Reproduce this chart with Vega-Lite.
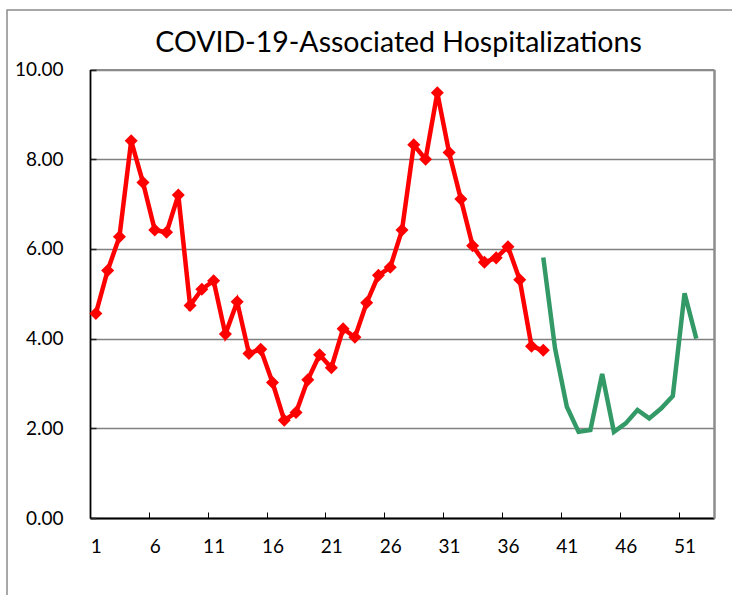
{
  "$schema": "https://vega.github.io/schema/vega-lite/v6.json",
  "autosize": {"type": "none"},
  "width": 745,
  "height": 605,
  "padding": {"left": 7, "top": 10, "right": -20, "bottom": -20},
  "background": "white",
  "config": {
    "view": {"stroke": "#8c8c8c", "strokeWidth": 1.5},
    "font": "Lato"
  },
  "title": {
    "text": "COVID-19-Associated Hospitalizations",
    "anchor": "middle",
    "frame": "group",
    "orient": "top",
    "offset": 0,
    "baseline": "alphabetic",
    "dy": 70,
    "dx": 19,
    "font": "Lato",
    "fontSize": 28.5,
    "fontWeight": "normal",
    "color": "#000000"
  },
  "data": {
    "values": [
      {"week": 1, "value": 4.56, "series": "prior"},
      {"week": 2, "value": 5.52, "series": "prior"},
      {"week": 3, "value": 6.27, "series": "prior"},
      {"week": 4, "value": 8.41, "series": "prior"},
      {"week": 5, "value": 7.48, "series": "prior"},
      {"week": 6, "value": 6.42, "series": "prior"},
      {"week": 7, "value": 6.37, "series": "prior"},
      {"week": 8, "value": 7.2, "series": "prior"},
      {"week": 9, "value": 4.74, "series": "prior"},
      {"week": 10, "value": 5.1, "series": "prior"},
      {"week": 11, "value": 5.29, "series": "prior"},
      {"week": 12, "value": 4.1, "series": "prior"},
      {"week": 13, "value": 4.82, "series": "prior"},
      {"week": 14, "value": 3.67, "series": "prior"},
      {"week": 15, "value": 3.76, "series": "prior"},
      {"week": 16, "value": 3.02, "series": "prior"},
      {"week": 17, "value": 2.18, "series": "prior"},
      {"week": 18, "value": 2.35, "series": "prior"},
      {"week": 19, "value": 3.08, "series": "prior"},
      {"week": 20, "value": 3.64, "series": "prior"},
      {"week": 21, "value": 3.35, "series": "prior"},
      {"week": 22, "value": 4.22, "series": "prior"},
      {"week": 23, "value": 4.03, "series": "prior"},
      {"week": 24, "value": 4.8, "series": "prior"},
      {"week": 25, "value": 5.41, "series": "prior"},
      {"week": 26, "value": 5.59, "series": "prior"},
      {"week": 27, "value": 6.42, "series": "prior"},
      {"week": 28, "value": 8.32, "series": "prior"},
      {"week": 29, "value": 8.0, "series": "prior"},
      {"week": 30, "value": 9.48, "series": "prior"},
      {"week": 31, "value": 8.15, "series": "prior"},
      {"week": 32, "value": 7.11, "series": "prior"},
      {"week": 33, "value": 6.07, "series": "prior"},
      {"week": 34, "value": 5.7, "series": "prior"},
      {"week": 35, "value": 5.8, "series": "prior"},
      {"week": 36, "value": 6.05, "series": "prior"},
      {"week": 37, "value": 5.31, "series": "prior"},
      {"week": 38, "value": 3.83, "series": "prior"},
      {"week": 39, "value": 3.74, "series": "prior"},
      {"week": 39, "value": 5.81, "series": "current"},
      {"week": 40, "value": 3.78, "series": "current"},
      {"week": 41, "value": 2.48, "series": "current"},
      {"week": 42, "value": 1.92, "series": "current"},
      {"week": 43, "value": 1.96, "series": "current"},
      {"week": 44, "value": 3.21, "series": "current"},
      {"week": 45, "value": 1.92, "series": "current"},
      {"week": 46, "value": 2.11, "series": "current"},
      {"week": 47, "value": 2.41, "series": "current"},
      {"week": 48, "value": 2.22, "series": "current"},
      {"week": 49, "value": 2.44, "series": "current"},
      {"week": 50, "value": 2.72, "series": "current"},
      {"week": 51, "value": 5.01, "series": "current"},
      {"week": 52, "value": 4.0, "series": "current"}
    ]
  },
  "layer": [
    {
      "transform": [{"filter": "datum.series === 'prior'"}],
      "mark": {
        "type": "line",
        "color": "#ff0000",
        "strokeWidth": 4.5,
        "point": {"shape": "diamond", "size": 170, "filled": true, "color": "#ff0000", "opacity": 1}
      },
      "encoding": {
        "x": {
          "field": "week",
          "type": "quantitative",
          "scale": {"domain": [0.5, 53.5], "range": [83, 707], "nice": false, "zero": false},
          "axis": {
            "orient": "bottom",
            "offset": -97,
            "title": null,
            "values": [1, 6, 11, 16, 21, 26, 31, 36, 41, 46, 51],
            "grid": false,
            "domainColor": "#000000",
            "domainWidth": 1.8,
            "tickColor": "#000000",
            "tickWidth": 1,
            "tickSize": -6,
            "tickOffset": -5.887,
            "labelOffset": 5.887,
            "labelPadding": 25,
            "labelFont": "Lato",
            "labelFontSize": 19,
            "labelColor": "#000000",
            "labelBaseline": "top",
            "labelFlush": false,
            "labelOverlap": false
          }
        },
        "y": {
          "field": "value",
          "type": "quantitative",
          "scale": {"domain": [0, 10], "range": [508, 59.5], "nice": false, "zero": true},
          "axis": {
            "orient": "left",
            "offset": -83,
            "title": null,
            "values": [0, 2, 4, 6, 8, 10],
            "format": ".2f",
            "grid": true,
            "gridColor": "#808080",
            "gridWidth": 1.4,
            "domainColor": "#000000",
            "domainWidth": 1.8,
            "tickColor": "#222222",
            "tickWidth": 1.5,
            "tickSize": -6,
            "labelPadding": 33,
            "labelFont": "Lato",
            "labelFontSize": 19,
            "labelColor": "#000000",
            "labelFlush": false,
            "labelOverlap": false
          }
        }
      }
    },
    {
      "transform": [{"filter": "datum.series === 'current'"}],
      "mark": {"type": "line", "color": "#339966", "strokeWidth": 4.5},
      "encoding": {
        "x": {
          "field": "week",
          "type": "quantitative",
          "scale": {"domain": [0.5, 53.5], "range": [83, 707], "nice": false, "zero": false},
          "axis": {
            "orient": "top",
            "offset": -59.5,
            "title": null,
            "ticks": false,
            "labels": false,
            "grid": false,
            "domainColor": "#8c8c8c",
            "domainWidth": 2
          }
        },
        "y": {
          "field": "value",
          "type": "quantitative",
          "scale": {"domain": [0, 10], "range": [508, 59.5], "nice": false, "zero": true},
          "axis": {
            "orient": "right",
            "offset": -38,
            "title": null,
            "ticks": false,
            "labels": false,
            "grid": false,
            "domainColor": "#8c8c8c",
            "domainWidth": 2.5
          }
        }
      }
    }
  ],
  "resolve": {"axis": {"x": "independent", "y": "independent"}}
}
